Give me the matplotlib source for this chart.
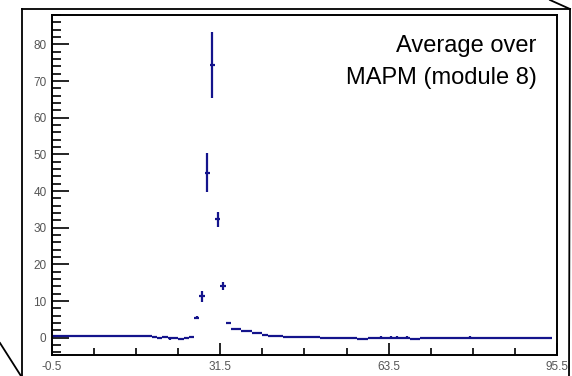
import numpy as np
import matplotlib
matplotlib.use('Agg')
from matplotlib import pyplot as plt
from matplotlib.lines import Line2D
from matplotlib.ticker import FixedLocator, MultipleLocator

# bin contents of the averaged spectrum, bins 0..95
left_flat = [0.4] * 19
left_dips = [0.2, -0.1, 0.1, -0.2, 0.0, -0.3, -0.1, 0.3]
peak = [5.4, 11.3, 45.0, 74.5, 32.3, 14.2, 4.0]
tail = [2.5, 2.4, 1.9, 1.8, 1.3, 1.2, 0.8, 0.5, 0.4, 0.4, 0.3]
bump = [0.3, 0.3, 0.2, 0.3, 0.3, 0.1]
mid = [0.0] * 7 + [-0.3, -0.3, 0.0, 0.0, 0.0, 0.0, 0.0, 0.0, 0.0, 0.0, -0.4, -0.4]
right_flat = [0.0] * 25

left_err = [0.2] * 19
dip_err = [0.3] * 8
peak_err = [0.4, 1.5, 5.3, 9.0, 2.1, 1.1, 0.3]
tail_err = [0.2] * 11
bump_err = [0.2] * 6
mid_err = [0.1] * 7 + [0.3, 0.3, 0.1, 0.1, 0.4, 0.1, 0.4, 0.4, 0.1, 0.4, 0.3, 0.3]
right_err = [0.1] * 9 + [0.4] + [0.1] * 15

values = left_flat + left_dips + peak + tail + bump + mid + right_flat
errors = left_err + dip_err + peak_err + tail_err + bump_err + mid_err + right_err
bins = np.arange(len(values))

x_ticks = [-0.5, 31.5, 63.5, 95.5]
x_labels = ['-0.5', '31.5', '63.5', '95.5']

W, H = 572, 376
fig = plt.figure(figsize=(W / 100, H / 100), dpi=100)
ax = fig.add_axes([52 / W, 1 - 355 / H, 505 / W, 340 / H])

blue = '#14148c'
ax.errorbar(bins, values, yerr=errors, xerr=0.5, fmt='none',
            ecolor=blue, elinewidth=1.6, capsize=0)

ax.set_xlim(-0.5, 95.5)
ax.set_ylim(-4.7, 88)

ax.xaxis.set_major_locator(FixedLocator(x_ticks))
ax.set_xticklabels(x_labels)
ax.set_xticks(np.arange(-0.5, 96, 8), minor=True)
ax.yaxis.set_major_locator(MultipleLocator(10))
ax.yaxis.set_minor_locator(MultipleLocator(2))

ax.tick_params(axis='y', which='major', direction='in', length=12, width=1.2,
               labelsize=8.5, labelcolor='#555555', pad=4)
ax.tick_params(axis='y', which='minor', direction='in', length=6.5, width=1.2)
ax.tick_params(axis='x', which='major', direction='in', length=8.5, width=1.2,
               labelsize=8.5, labelcolor='#555555', pad=4)
ax.tick_params(axis='x', which='minor', direction='in', length=5, width=1.2)
for lab in ax.get_xticklabels() + ax.get_yticklabels():
    lab.set_family('Liberation Sans')
for side in ['left', 'right', 'top', 'bottom']:
    ax.spines[side].set_linewidth(1.4)

ax.text(0.96, 0.862, 'Average over\nMAPM (module 8)', transform=ax.transAxes,
        ha='right', va='center', fontsize=17, family='Liberation Sans',
        linespacing=1.55)

# frame and callout lines from the slide
def fig_line(x0, y0, x1, y1):
    fig.add_artist(Line2D([x0 / W, x1 / W], [1 - y0 / H, 1 - y1 / H],
                          transform=fig.transFigure, color='black', lw=1.3))

fig_line(22, 9, 570, 9)
fig_line(22, 9, 22, 376)
fig_line(570, 9, 569, 376)
fig_line(550, 0, 570, 9)
fig_line(0, 343, 21, 376)

fig.savefig('out.png', dpi=100)
